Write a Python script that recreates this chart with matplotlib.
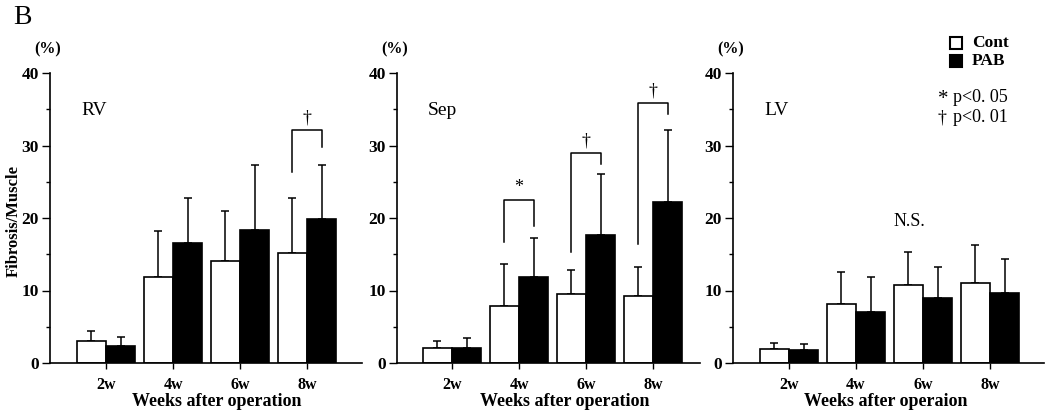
import numpy as np
import matplotlib
matplotlib.use('Agg')
import matplotlib.pyplot as plt
from matplotlib.ticker import MultipleLocator

plt.rcParams['font.family'] = ['Liberation Serif', 'DejaVu Serif']

weeks = ['2w', '4w', '6w', '8w']
regions = ['RV', 'Sep', 'LV']

cont_mean = {'RV': [3.1, 11.8, 14.1, 15.2],
             'Sep': [2.1, 7.8, 9.5, 9.3],
             'LV': [2.0, 8.1, 10.7, 11.0]}
cont_sd = {'RV': [1.3, 6.4, 6.8, 7.6],
           'Sep': [1.0, 5.9, 3.3, 3.9],
           'LV': [0.8, 4.5, 4.6, 5.3]}
pab_mean = {'RV': [2.4, 16.6, 18.4, 19.9],
            'Sep': [2.1, 11.8, 17.6, 22.2],
            'LV': [1.8, 7.1, 8.9, 9.7]}
pab_sd = {'RV': [1.2, 6.2, 8.9, 7.4],
          'Sep': [1.3, 5.5, 8.5, 9.9],
          'LV': [0.8, 4.7, 4.4, 4.6]}

# (week index, bracket top, left leg bottom, right leg bottom, mark)
brackets = {'RV': [(3, 32.1, 26.3, 29.8, '†')],
            'Sep': [(1, 22.5, 16.7, 18.9, '*'),
                    (2, 28.9, 15.3, 27.4, '†'),
                    (3, 35.9, 16.4, 34.4, '†')],
            'LV': []}

W, H = 1050, 417
fig = plt.figure(figsize=(W / 100, H / 100), dpi=100)

# pixel boxes of the three panels: left, right, first group centre
boxes = {'RV': (50, 362, 106), 'Sep': (397, 700, 452), 'LV': (733, 1044, 789)}
xlabels = {'RV': ('Weeks after operation', 217),
           'Sep': ('Weeks after operation', 565),
           'LV': ('Weeks after operaion', 886)}
spacing = 67.0
y0, y1 = 363, 73
bw = 0.44

for reg in regions:
    left, right, c0 = boxes[reg]
    ax = fig.add_axes([left / W, 1 - y0 / H, (right - left) / W, (y0 - y1) / H])
    x = np.arange(len(weeks))
    ax.bar(x - bw / 2, cont_mean[reg], bw, color='white', edgecolor='black', linewidth=1.2, zorder=2)
    ax.bar(x + bw / 2, pab_mean[reg], bw, color='black', edgecolor='black', linewidth=1.2, zorder=2)
    ax.errorbar(x - bw / 2, cont_mean[reg], yerr=[np.zeros(4), cont_sd[reg]], fmt='none',
                ecolor='black', elinewidth=1.1, capsize=3, capthick=1.1, zorder=1)
    ax.errorbar(x + bw / 2, pab_mean[reg], yerr=[np.zeros(4), pab_sd[reg]], fmt='none',
                ecolor='black', elinewidth=1.1, capsize=3, capthick=1.1, zorder=1)

    for i, top, lb, rb, mark in brackets[reg]:
        xl, xr = i - bw / 2, i + bw / 2
        ax.plot([xl, xl, xr, xr], [lb, top, top, rb], color='black', linewidth=1.1, zorder=3)
        ax.text(i, top + 0.5, mark, ha='center', va='bottom', fontsize=13)

    ax.set_xlim(-(c0 - left) / spacing, (right - c0) / spacing)
    ax.set_ylim(0, 40)
    ax.set_xticks(x)
    ax.set_xticklabels(weeks, fontweight='bold', fontsize=11.5)
    ax.yaxis.set_major_locator(MultipleLocator(10))
    ax.yaxis.set_minor_locator(MultipleLocator(5))
    for lab in ax.get_yticklabels():
        lab.set_fontweight('bold')
        lab.set_fontsize(12.5)
    ax.tick_params(axis='x', length=4, width=1, pad=6)
    ax.tick_params(axis='y', which='major', length=6, width=1, pad=2)
    ax.tick_params(axis='y', which='minor', length=3, width=1)
    ax.spines['top'].set_visible(False)
    ax.spines['right'].set_visible(False)
    for s in ['left', 'bottom']:
        ax.spines[s].set_linewidth(1.2)

    ax.text(0.1, 0.87, reg, transform=ax.transAxes, fontsize=14, va='center', ha='left')
    fig.text((left - 2) / W, 1 - 49 / H, '(%)', ha='center', va='center', fontsize=11.5, fontweight='bold')
    txt, xc = xlabels[reg]
    fig.text(xc / W, 1 - 402 / H, txt, ha='center', va='center', fontsize=13, fontweight='bold')

    if reg == 'LV':
        ax.text(1.8, 19.5, 'N.S.', ha='center', va='center', fontsize=13)

fig.text(14 / W, 1 - 221 / H, 'Fibrosis/Muscle', rotation=90, ha='center', va='center',
         fontsize=12, fontweight='bold')
fig.text(13 / W, 1 - 18 / H, 'B', ha='left', va='center', fontsize=20)

# legend
fig.patches.append(plt.Rectangle((950 / W, 1 - 49 / H), 12 / W, 12 / H, transform=fig.transFigure,
                                 facecolor='white', edgecolor='black', linewidth=1.5))
fig.patches.append(plt.Rectangle((950 / W, 1 - 67 / H), 12 / W, 12 / H, transform=fig.transFigure,
                                 facecolor='black', edgecolor='black', linewidth=1.5))
fig.text(972 / W, 1 - 43 / H, 'Cont', ha='left', va='center', fontsize=12.5, fontweight='bold')
fig.text(972 / W, 1 - 61 / H, 'PAB', ha='left', va='center', fontsize=12.5, fontweight='bold')
fig.text(938 / W, 1 - 99 / H, '*', ha='left', va='center', fontsize=15)
fig.text(953 / W, 1 - 97 / H, 'p<0. 05', ha='left', va='center', fontsize=13)
fig.text(938 / W, 1 - 118 / H, '†', ha='left', va='center', fontsize=13)
fig.text(953 / W, 1 - 118 / H, 'p<0. 01', ha='left', va='center', fontsize=13)

fig.savefig('out.png', dpi=100)
